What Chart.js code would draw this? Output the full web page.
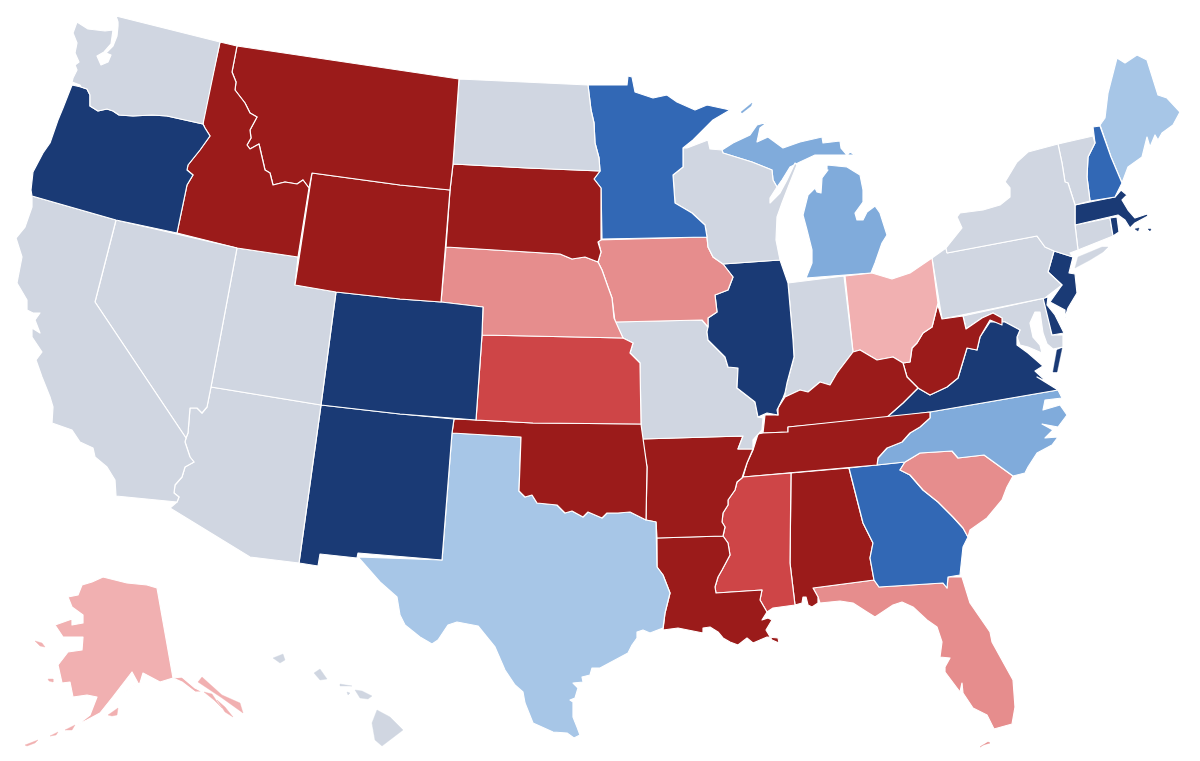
<!DOCTYPE html>
<html>
<head>
<meta charset="utf-8">
<style>
html, body { margin: 0; padding: 0; background: #fff; }
canvas { display: block; }
</style>
<script src="https://cdn.jsdelivr.net/npm/chart.js@4"></script>
</head>
<body>
<canvas id="myChart" width="1200" height="761"></canvas>
<script>
// state outlines as [x, y] in map units
var WA = [[116,16],[220,42],[203,124],[167,116],[152,115],[133,116],[119,115],[113,111],[107,109],[98,111],[90,106],[90,95],[87,89],[81,87],[80,85],[72,82],[73,78],[77,70],[75,65],[79,62],[75,53],[77,43],[73,33],[77,22],[88,29],[105,31],[113,30],[111,44],[104,52],[97,56],[101,65],[108,62],[111,55],[106,53],[113,46],[117,36],[118,26],[118,22]];
var OR = [[72,85],[81,87],[87,89],[90,95],[90,106],[98,111],[107,109],[113,111],[119,115],[133,116],[152,115],[167,116],[203,124],[205,128],[210,136],[200,150],[188,165],[187,170],[193,175],[187,185],[177,233],[116,220],[32,196],[31,190],[33,172],[43,153],[50,143],[58,120],[63,108]];
var CA = [[32,196],[116,220],[95,302],[186,438],[185,442],[190,457],[194,462],[185,467],[182,477],[175,485],[174,493],[179,497],[177,502],[116,496],[115,480],[107,467],[95,457],[93,448],[80,442],[72,430],[52,423],[53,407],[50,397],[42,377],[36,360],[42,352],[32,337],[32,328],[40,333],[35,320],[40,313],[33,313],[27,310],[27,300],[17,283],[22,257],[16,238],[25,227],[32,207]];
var NV = [[116,220],[237,248],[211,387],[207,407],[202,413],[197,408],[190,408],[188,433],[186,438],[95,302]];
var ID = [[220,42],[237,46],[232,72],[236,82],[235,90],[245,103],[250,113],[257,117],[250,130],[251,138],[247,145],[250,149],[259,144],[262,157],[265,170],[270,173],[273,185],[285,182],[297,184],[303,180],[309,188],[298,257],[237,248],[177,233],[187,185],[193,175],[187,170],[188,165],[200,150],[210,136],[205,128],[203,124],[204,113]];
var MT = [[237,46],[459,79],[453,164],[450,190],[400,185],[312,173],[309,188],[303,180],[297,184],[285,182],[273,185],[270,173],[265,170],[262,157],[259,144],[250,149],[247,145],[251,138],[250,130],[257,117],[250,113],[245,103],[235,90],[236,82],[232,72]];
var WY = [[312,173],[400,185],[450,190],[441,302],[400,299],[336,292],[295,285]];
var UT = [[237,248],[298,257],[295,285],[336,292],[321,405],[211,387]];
var AZ = [[211,387],[321,405],[299,563],[250,557],[170,508],[177,502],[179,497],[174,493],[175,485],[182,477],[185,467],[194,462],[190,457],[185,442],[186,438],[188,433],[190,408],[197,408],[202,413],[207,407]];
var CO = [[336,292],[400,299],[441,302],[483,307],[482,335],[476,420],[400,414],[321,405]];
var NM = [[321,405],[400,414],[454,419],[452,433],[442,560],[358,553],[357,558],[320,554],[318,566],[299,563]];
var ND = [[459,79],[588,85],[591,110],[594,123],[595,143],[599,158],[600,171],[527,168],[453,164]];
var SD = [[453,164],[527,168],[600,171],[594,179],[601,188],[601,240],[598,242],[601,252],[598,262],[585,257],[572,259],[560,254],[446,247],[450,190]];
var NE = [[446,247],[560,254],[572,259],[585,257],[598,262],[602,270],[608,287],[612,298],[614,318],[623,338],[482,335],[483,307],[441,302]];
var KS = [[482,335],[623,338],[633,343],[630,353],[640,363],[641,424],[533,423],[476,420]];
var OK = [[454,419],[476,420],[533,423],[641,424],[647,467],[646,520],[630,512],[618,513],[607,513],[602,518],[588,512],[583,517],[572,511],[565,513],[557,505],[537,503],[532,495],[525,497],[519,491],[521,437],[452,433]];
var TX = [[452,433],[521,437],[519,491],[525,497],[532,495],[537,503],[557,505],[565,513],[572,511],[583,517],[588,512],[602,518],[607,513],[618,513],[630,512],[646,520],[656,522],[657,567],[663,575],[670,593],[665,613],[663,628],[650,633],[643,630],[637,632],[637,638],[632,645],[628,653],[600,668],[592,668],[590,675],[582,677],[583,682],[573,683],[578,688],[575,698],[570,700],[573,702],[573,717],[577,727],[580,735],[574,738],[567,733],[553,732],[533,723],[525,703],[523,692],[515,685],[505,670],[495,647],[478,626],[457,622],[448,625],[438,640],[432,644],[420,637],[405,625],[400,615],[397,597],[380,582],[358,557],[442,560]];
var MN = [[588,85],[627,85],[628,76],[632,77],[635,92],[653,98],[667,95],[677,102],[695,110],[707,105],[730,110],[713,120],[693,140],[683,148],[683,167],[673,175],[675,203],[692,213],[705,225],[707,237],[602,239],[601,188],[594,179],[600,171],[599,158],[595,143],[594,123],[591,110]];
var WI = [[687,148],[708,140],[710,149],[722,150],[723,153],[752,162],[767,168],[772,170],[773,180],[777,187],[770,198],[770,203],[780,193],[787,180],[795,163],[797,165],[789,185],[782,203],[777,217],[776,240],[780,260],[723,264],[713,257],[708,247],[707,237],[705,225],[692,213],[675,203],[673,175],[683,167],[683,148]];
var IA = [[598,240],[707,237],[708,247],[713,257],[723,264],[733,277],[728,290],[715,295],[717,312],[708,318],[708,327],[702,320],[615,322],[612,298],[608,287],[602,270],[598,262],[601,252]];
var IL = [[723,264],[780,260],[788,283],[793,340],[794,357],[787,383],[785,393],[783,398],[777,410],[778,415],[767,413],[758,417],[755,402],[737,388],[738,368],[728,367],[725,357],[708,340],[707,332],[708,327],[708,318],[717,312],[715,295],[728,290],[733,277]];
var MO = [[615,322],[702,320],[708,327],[707,332],[708,340],[725,357],[728,367],[738,368],[737,388],[755,402],[758,417],[763,418],[762,430],[753,440],[753,449],[738,449],[743,436],[642,439],[641,424],[640,363],[630,353],[633,343],[623,338]];
var AR = [[642,439],[743,436],[738,449],[753,449],[747,463],[742,478],[737,482],[735,490],[728,500],[728,505],[723,513],[722,522],[725,527],[723,536],[657,538],[656,522],[646,520],[647,467]];
var LA = [[657,538],[723,536],[728,543],[730,555],[722,570],[718,577],[715,587],[716,593],[762,590],[760,600],[767,612],[762,620],[768,618],[772,620],[766,630],[772,640],[779,643],[778,638],[767,637],[753,643],[747,638],[738,645],[730,642],[723,638],[718,632],[710,627],[703,628],[703,633],[678,628],[663,630],[665,613],[670,593],[663,575],[657,567]];
var MS = [[743,477],[791,473],[790,563],[795,605],[773,608],[767,612],[760,600],[762,590],[716,593],[715,587],[718,577],[722,570],[730,555],[728,543],[723,536],[725,527],[722,522],[723,513],[728,505],[728,500],[735,490],[737,482]];
var TN = [[763,433],[788,432],[788,427],[930,412],[930,418],[920,427],[910,433],[902,442],[887,448],[878,458],[877,465],[743,477],[747,463],[753,450],[758,434]];
var KY = [[765,415],[778,415],[778,408],[785,397],[800,390],[808,392],[820,382],[830,385],[837,373],[853,352],[860,350],[877,360],[893,357],[903,363],[907,377],[918,388],[903,403],[886,418],[788,427],[788,432],[763,433]];
var IN = [[788,283],[844,276],[853,352],[837,373],[830,385],[820,382],[808,392],[800,390],[785,397],[785,393],[787,383],[794,357],[793,340]];
var OH = [[845,276],[872,273],[892,279],[910,273],[932,258],[938,303],[932,327],[923,333],[917,343],[912,348],[910,362],[903,363],[893,357],[877,360],[860,350],[853,352]];
var WV = [[935,295],[942,319],[963,316],[966,329],[982,318],[993,313],[1002,318],[1002,325],[990,320],[980,337],[977,350],[967,348],[958,378],[947,387],[930,395],[918,388],[907,377],[903,363],[910,362],[912,348],[917,343],[923,333],[932,327],[938,303]];
var VA = [[990,322],[1005,322],[1020,330],[1017,337],[1017,345],[1028,353],[1043,366],[1035,371],[1047,382],[1037,377],[1058,390],[930,412],[886,418],[903,403],[918,388],[930,395],[947,387],[958,378],[967,348],[977,350],[980,337]];
var VA_SHORE = [[1062,348],[1057,350],[1053,372],[1057,372]];
var NC = [[930,418],[930,412],[1058,390],[1062,398],[1045,400],[1043,410],[1060,405],[1067,415],[1058,427],[1042,424],[1053,430],[1045,438],[1058,437],[1052,445],[1037,453],[1028,467],[1025,473],[1013,476],[984,455],[958,458],[952,451],[920,453],[905,462],[877,465],[878,458],[887,448],[902,442],[910,433],[920,427]];
var SC = [[905,462],[920,453],[952,451],[958,458],[984,455],[1013,476],[1007,487],[1002,500],[987,518],[970,530],[968,537],[963,528],[953,517],[938,502],[923,490],[910,475],[900,470]];
var GA = [[849,468],[905,462],[900,470],[910,475],[923,490],[938,502],[953,517],[963,528],[968,537],[963,547],[960,575],[948,577],[947,588],[943,583],[879,587],[874,580],[870,558],[873,543],[863,523]];
var AL = [[791,473],[849,468],[863,523],[873,543],[870,558],[874,580],[813,588],[818,597],[818,603],[812,607],[808,605],[806,597],[803,597],[802,603],[795,605],[790,563]];
var FL = [[813,588],[874,580],[879,587],[943,583],[947,588],[948,577],[962,577],[970,603],[990,632],[992,642],[1013,680],[1015,707],[1012,724],[994,729],[987,715],[973,708],[963,693],[962,683],[960,692],[945,672],[945,667],[950,658],[940,657],[942,642],[937,627],[927,620],[913,607],[902,602],[893,605],[875,617],[867,612],[853,603],[840,601],[820,603],[818,597]];
var MI_LOWER = [[806,278],[812,263],[812,250],[807,230],[803,215],[808,195],[815,188],[817,192],[821,193],[822,178],[828,170],[827,165],[847,167],[860,175],[863,190],[863,202],[855,213],[857,220],[863,220],[867,212],[875,206],[880,213],[887,235],[882,243],[875,263],[871,273]];
var MI_UPPER = [[722,150],[733,143],[750,135],[757,125],[768,122],[760,128],[757,142],[768,137],[783,148],[800,142],[822,137],[823,143],[840,141],[841,148],[847,155],[850,152],[855,155],[832,155],[815,155],[800,162],[790,167],[782,180],[777,187],[773,180],[772,170],[767,168],[752,162],[723,153]];
var NY = [[946,248],[962,228],[957,217],[960,213],[983,210],[1000,205],[1010,197],[1010,188],[1005,182],[1017,162],[1028,152],[1058,144],[1062,163],[1065,182],[1068,183],[1075,205],[1075,225],[1078,250],[1070,253],[1073,257],[1054,251],[1045,247],[1037,236],[947,253]];
var LONG_ISLAND = [[1078,257],[1102,247],[1108,247],[1103,252],[1090,260],[1075,268]];
var PA = [[947,253],[1037,236],[1045,247],[1054,251],[1052,258],[1048,272],[1062,285],[1045,298],[942,319],[932,258],[946,248]];
var NJ = [[1054,251],[1073,257],[1069,273],[1075,274],[1077,293],[1068,308],[1065,318],[1065,310],[1050,302],[1062,285],[1048,272],[1052,258]];
var DE = [[1043,298],[1048,297],[1047,305],[1055,315],[1064,333],[1052,335]];
var MD = [[963,316],[1045,298],[1052,335],[1063,335],[1063,347],[1053,349],[1047,344],[1043,333],[1040,312],[1035,312],[1030,323],[1033,337],[1040,345],[1042,353],[1028,347],[1020,345],[1017,337],[1020,330],[1005,322],[990,322],[1002,325],[1002,318],[993,313],[982,318],[966,329]];
var VT = [[1058,144],[1093,136],[1095,143],[1088,157],[1087,177],[1090,201],[1075,205],[1068,183],[1065,182],[1062,163]];
var NH = [[1093,127],[1100,126],[1111,157],[1122,183],[1115,197],[1090,201],[1087,177],[1088,157],[1095,143]];
var ME = [[1100,125],[1105,118],[1108,93],[1117,58],[1125,63],[1137,55],[1147,60],[1158,95],[1167,98],[1180,112],[1173,125],[1162,133],[1158,140],[1155,135],[1150,147],[1147,137],[1142,157],[1128,167],[1122,183],[1111,157]];
var MA = [[1075,205],[1115,197],[1121,190],[1127,195],[1122,200],[1128,210],[1135,218],[1147,214],[1148,216],[1135,223],[1130,228],[1125,220],[1118,215],[1075,225]];
var RI = [[1110,218],[1117,217],[1119,232],[1113,236]];
var CT = [[1075,225],[1110,218],[1113,236],[1078,250]];
var AK = [[157,588],[147,585],[127,583],[115,580],[103,577],[92,582],[82,585],[78,595],[68,597],[72,607],[83,615],[83,623],[72,625],[72,619],[55,625],[63,637],[83,637],[82,650],[68,652],[58,665],[62,683],[70,682],[73,697],[87,695],[97,697],[90,715],[77,725],[87,720],[100,713],[112,698],[132,672],[138,683],[123,693],[140,683],[143,673],[160,682],[173,678],[182,677],[195,688],[203,692],[195,692],[182,682],[173,678]];

// small islands and pieces, drawn without the white edge
var AK_ISLE1 = [[198,682],[202,677],[222,695],[240,703],[243,713],[236,708],[222,698]];
var AK_ISLE2 = [[204,692],[212,694],[218,703],[222,708],[214,700]];
var AK_ISLE3 = [[217,700],[225,707],[233,717],[225,712]];
var AK_KODIAK = [[108,715],[118,708],[117,715],[112,716]];
var AK_ALEUT1 = [[65,730],[75,725],[72,730]];
var AK_ALEUT2 = [[50,736],[58,732],[56,735]];
var AK_ALEUT3 = [[25,745],[38,740],[35,743],[27,746]];
var AK_STLAWRENCE = [[35,641],[42,643],[45,647],[40,646]];
var AK_NUNIVAK = [[48,679],[53,679],[53,682],[49,681]];
var HI_BIG = [[377,710],[390,717],[403,730],[382,746],[375,740],[372,723]];
var HI_MAUI = [[355,690],[362,691],[372,696],[368,699],[360,698]];
var HI_OAHU = [[320,669],[327,679],[320,680],[314,673]];
var HI_KAUAI = [[273,658],[283,654],[285,660],[280,663]];
var HI_MOLOKAI = [[340,684],[352,686],[340,686]];
var HI_LANAI = [[347,692],[350,693],[348,695]];
var MI_ROYALE = [[741,112],[752,103],[751,106],[742,113]];
var FL_KEYS = [[980,747],[988,742],[990,743],[983,745]];
var MA_NANTUCKET = [[1135,229],[1139,228],[1138,231]];
var MA_VINEYARD = [[1148,229],[1151,229],[1150,231]];

// colour groups
var NAVY = '#1a3a75';
var BLUE = '#3268b5';
var MIDBLUE = '#80abdb';
var LIGHTBLUE = '#a7c6e7';
var GREY = '#d0d6e1';
var DARKRED = '#9b1b1a';
var RED = '#ce4547';
var ROSE = '#e68d8d';
var PINK = '#f1b0b1';

var states = [
  [WA, GREY], [OR, NAVY], [CA, GREY], [NV, GREY], [ID, DARKRED], [MT, DARKRED], [WY, DARKRED],
  [UT, GREY], [AZ, GREY], [CO, NAVY], [NM, NAVY], [ND, GREY], [SD, DARKRED], [NE, ROSE],
  [KS, RED], [OK, DARKRED], [TX, LIGHTBLUE], [MN, BLUE], [WI, GREY], [IA, ROSE], [IL, NAVY],
  [MO, GREY], [AR, DARKRED], [LA, DARKRED], [MS, RED], [TN, DARKRED], [KY, DARKRED], [IN, GREY],
  [OH, PINK], [WV, DARKRED], [VA, NAVY], [NC, MIDBLUE], [SC, ROSE], [GA, BLUE], [AL, DARKRED],
  [FL, ROSE], [MI_LOWER, MIDBLUE], [MI_UPPER, MIDBLUE], [NY, GREY], [PA, GREY], [NJ, NAVY],
  [DE, NAVY], [MD, GREY], [VT, GREY], [NH, BLUE], [ME, LIGHTBLUE], [MA, NAVY], [RI, NAVY],
  [CT, GREY], [AK, PINK]
];
var islands = [
  [VA_SHORE, NAVY], [LONG_ISLAND, GREY], [AK_ISLE1, PINK], [AK_ISLE2, PINK], [AK_ISLE3, PINK],
  [AK_KODIAK, PINK], [AK_ALEUT1, PINK], [AK_ALEUT2, PINK], [AK_ALEUT3, PINK], [AK_STLAWRENCE, PINK],
  [AK_NUNIVAK, PINK], [HI_BIG, GREY], [HI_MAUI, GREY], [HI_OAHU, GREY], [HI_KAUAI, GREY],
  [HI_MOLOKAI, GREY], [HI_LANAI, GREY], [MI_ROYALE, MIDBLUE], [FL_KEYS, ROSE],
  [MA_NANTUCKET, NAVY], [MA_VINEYARD, NAVY]
];

function shape(item, edge) {
  var pts = item[0].map(function (p) { return { x: p[0], y: p[1] }; });
  pts.push(pts[0]); // close the outline
  return {
    data: pts,
    showLine: true,
    fill: 'shape',
    backgroundColor: item[1],
    borderColor: edge ? '#ffffff' : item[1],
    borderWidth: edge ? 1.2 : 0.4,
    borderJoinStyle: 'round',
    tension: 0,
    pointRadius: 0,
    pointHoverRadius: 0
  };
}

var datasets = states.map(function (s) { return shape(s, true); })
  .concat(islands.map(function (s) { return shape(s, false); }));

var ctx = document.getElementById('myChart').getContext('2d');
new Chart(ctx, {
  type: 'scatter',
  data: { datasets: datasets },
  options: {
    responsive: false,
    animation: false,
    events: [],
    layout: { padding: 0 },
    plugins: { legend: { display: false }, tooltip: { enabled: false } },
    scales: {
      x: { type: 'linear', display: false, min: 0, max: 1200 },
      y: { type: 'linear', display: false, min: 0, max: 761, reverse: true }
    }
  }
});
</script>
</body>
</html>
